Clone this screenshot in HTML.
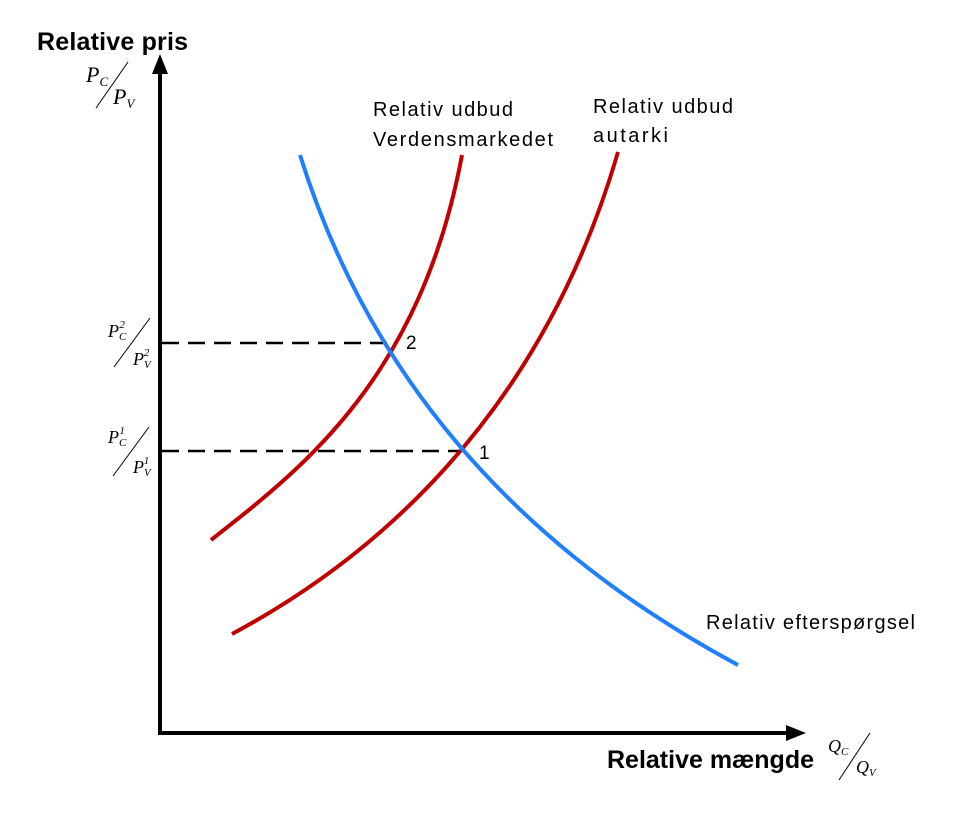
<!DOCTYPE html>
<html><head><meta charset="utf-8"><style>body{margin:0;background:#fff}</style></head><body>
<svg width="968" height="820" viewBox="0 0 968 820" xmlns="http://www.w3.org/2000/svg">
<rect width="968" height="820" fill="#fff"/>
<line x1="160" y1="735" x2="160" y2="70" stroke="#000" stroke-width="4"/>
<polygon points="160,54 152,74 168,74" fill="#000"/>
<line x1="158" y1="733" x2="790" y2="733" stroke="#000" stroke-width="4"/>
<polygon points="806,733 786,725 786,741" fill="#000"/>
<line x1="162" y1="343" x2="388" y2="343" stroke="#000" stroke-width="2.5" stroke-dasharray="17,9"/>
<line x1="162" y1="451" x2="462" y2="451" stroke="#000" stroke-width="2.5" stroke-dasharray="17,9"/>
<path d="M211,540 C300,470 420,380 462,155" fill="none" stroke="#c00000" stroke-width="4"/>
<path d="M232,634 C370,560 540,420 618,152" fill="none" stroke="#c00000" stroke-width="4"/>
<path d="M300,155 Q403,485 738,665" fill="none" stroke="#1f7fff" stroke-width="4"/>
<g font-family="Liberation Sans, sans-serif" fill="#000">
<text x="37" y="50" font-size="25" font-weight="bold" textLength="151">Relative pris</text>
<text x="607" y="768" font-size="25" font-weight="bold" textLength="207">Relative mængde</text>
<text x="373" y="116" font-size="20" textLength="140">Relativ udbud</text>
<text x="373" y="146" font-size="20" textLength="180">Verdensmarkedet</text>
<text x="593" y="113" font-size="20" textLength="140">Relativ udbud</text>
<text x="593" y="142" font-size="20" textLength="75">autarki</text>
<text x="706" y="629" font-size="20" textLength="209">Relativ efterspørgsel</text>
<text x="406" y="349" font-size="19">2</text>
<text x="479" y="459" font-size="19">1</text>
</g>
<g font-family="Liberation Serif, serif" font-style="italic" fill="#000">
<text x="86" y="82" font-size="22">P<tspan font-size="13" dy="4">C</tspan></text>
<line x1="96" y1="108" x2="128" y2="62" stroke="#000" stroke-width="1"/>
<text x="113" y="104" font-size="22">P<tspan font-size="13" dy="4">V</tspan></text>

<text x="108" y="337" font-size="18">P<tspan font-size="11" dy="3">C</tspan><tspan font-size="11" dx="-7" dy="-12">2</tspan></text>
<line x1="114" y1="367" x2="150" y2="318" stroke="#000" stroke-width="1"/>
<text x="133" y="365" font-size="18">P<tspan font-size="11" dy="3">V</tspan><tspan font-size="11" dx="-7" dy="-12">2</tspan></text>

<text x="108" y="443" font-size="18">P<tspan font-size="11" dy="3">C</tspan><tspan font-size="11" dx="-7" dy="-12">1</tspan></text>
<line x1="113" y1="476" x2="149" y2="427" stroke="#000" stroke-width="1"/>
<text x="133" y="473" font-size="18">P<tspan font-size="11" dy="3">V</tspan><tspan font-size="11" dx="-7" dy="-12">1</tspan></text>

<text x="828" y="752" font-size="18">Q<tspan font-size="11" dy="3">C</tspan></text>
<line x1="839" y1="780" x2="870" y2="733" stroke="#000" stroke-width="1"/>
<text x="856" y="773" font-size="18">Q<tspan font-size="11" dy="3">V</tspan></text>
</g>
</svg>
</body></html>
